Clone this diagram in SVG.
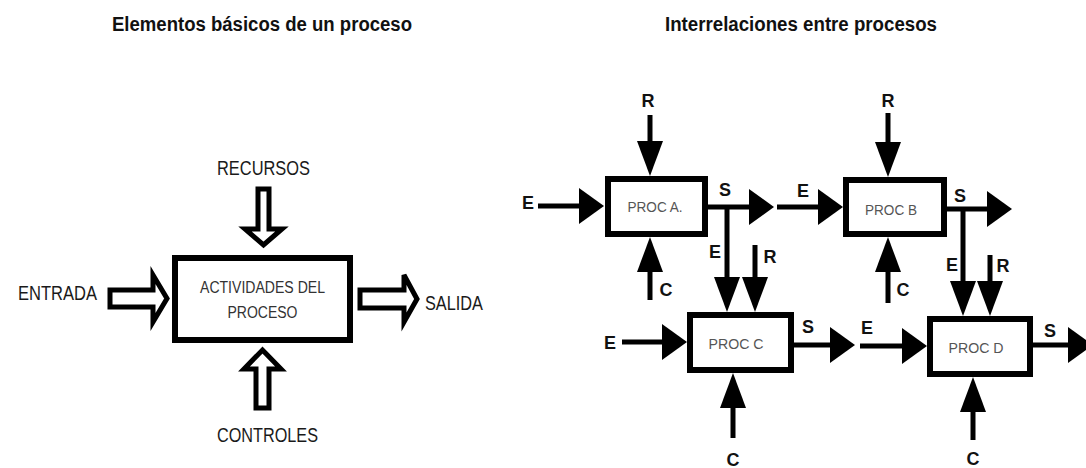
<svg xmlns="http://www.w3.org/2000/svg" width="1086" height="468" viewBox="0 0 1086 468">
<style>
.title{font-family:"Liberation Sans",Arial,sans-serif;font-weight:bold;font-size:20px;fill:#111}
.lbl{font-family:"Liberation Sans",Arial,sans-serif;font-size:20px;fill:#1a1a1a;text-anchor:middle}
.inner{font-family:"Liberation Sans",Arial,sans-serif;font-size:16px;fill:#333;text-anchor:middle}
.proc{font-family:"Liberation Sans",Arial,sans-serif;font-size:14px;fill:#555;text-anchor:middle}
.tag{font-family:"Liberation Sans",Arial,sans-serif;font-weight:bold;font-size:18px;fill:#111;text-anchor:middle}
.box{fill:#fff;stroke:#000;stroke-width:6}
.block{fill:#fff;stroke:#000;stroke-width:5;stroke-linejoin:miter}
.ln{fill:none;stroke:#000;stroke-width:5}
.h{marker-end:url(#arrowH)}
.v{marker-end:url(#arrowV)}
</style>
<defs>
<marker id="arrowH" markerUnits="userSpaceOnUse" markerWidth="25" markerHeight="36" viewBox="0 0 25 36" refX="0" refY="18" orient="auto" overflow="visible">
<path d="M0,0 L25,18 L0,36 Z" fill="#000"/>
</marker>
<marker id="arrowV" markerUnits="userSpaceOnUse" markerWidth="35" markerHeight="26" viewBox="0 0 35 26" refX="0" refY="13" orient="auto" overflow="visible">
<path d="M0,0 L35,13 L0,26 Z" fill="#000"/>
</marker>
</defs>
<rect width="1086" height="468" fill="#fff"/>

<g id="titles">
<text class="title" x="112" y="31" textLength="300" lengthAdjust="spacingAndGlyphs">Elementos básicos de un proceso</text>
<text class="title" x="665" y="31" textLength="272" lengthAdjust="spacingAndGlyphs">Interrelaciones entre procesos</text>
</g>

<!-- Left diagram -->
<g id="node-actividades">
<rect class="box" x="175" y="258" width="175" height="82"/>
<text class="inner" x="262.5" y="293" textLength="125" lengthAdjust="spacingAndGlyphs">ACTIVIDADES DEL</text>
<text class="inner" x="262.5" y="318" textLength="70" lengthAdjust="spacingAndGlyphs">PROCESO</text>
</g>
<g id="connectors-left">
<polygon class="block" points="258,189 269,189 269,229 282,229 263.5,245 245,229 258,229"/>
<polygon class="block" points="110,290 153,290 153,275 167,298.5 153,322 153,307 110,307"/>
<polygon class="block" points="360,290 404,290 404,275 417,299 404,322 404,308 360,308"/>
<polygon class="block" points="256,408 269,408 269,369 281,369 262.5,350 244,369 256,369"/>
</g>
<g id="labels-left">
<text class="lbl" x="263.5" y="175" textLength="93" lengthAdjust="spacingAndGlyphs">RECURSOS</text>
<text class="lbl" x="57.5" y="300" textLength="79" lengthAdjust="spacingAndGlyphs">ENTRADA</text>
<text class="lbl" x="454" y="310" textLength="58" lengthAdjust="spacingAndGlyphs">SALIDA</text>
<text class="lbl" x="267.5" y="442" textLength="101" lengthAdjust="spacingAndGlyphs">CONTROLES</text>
</g>

<!-- Right diagram -->
<g id="node-proc-a">
<rect class="box" x="608" y="179" width="97" height="55"/>
<text class="proc" x="655" y="212" textLength="55" lengthAdjust="spacingAndGlyphs">PROC A.</text>
</g>
<g id="node-proc-b">
<rect class="box" x="846" y="180" width="98" height="54"/>
<text class="proc" x="891" y="215" textLength="52" lengthAdjust="spacingAndGlyphs">PROC B</text>
</g>
<g id="node-proc-c">
<rect class="box" x="690" y="315" width="101" height="55"/>
<text class="proc" x="736" y="349" textLength="55" lengthAdjust="spacingAndGlyphs">PROC C</text>
</g>
<g id="node-proc-d">
<rect class="box" x="930" y="319" width="100" height="55"/>
<text class="proc" x="976" y="353" textLength="55" lengthAdjust="spacingAndGlyphs">PROC D</text>
</g>

<g id="connectors">
<!-- PROC A -->
<line class="ln v" x1="650" y1="115" x2="650" y2="141"/>
<line class="ln h" x1="538" y1="206" x2="579" y2="206"/>
<line class="ln v" x1="650" y1="300" x2="650" y2="272"/>
<line class="ln h" x1="705" y1="207" x2="749" y2="207"/>
<polyline class="ln v" points="727,205 727,277"/>
<line class="ln v" x1="755" y1="245" x2="755" y2="277"/>
<!-- PROC B -->
<line class="ln v" x1="888" y1="113" x2="888" y2="142"/>
<line class="ln h" x1="777" y1="207" x2="818" y2="207"/>
<line class="ln v" x1="888" y1="303" x2="888" y2="272"/>
<line class="ln h" x1="944" y1="209" x2="987" y2="209"/>
<polyline class="ln v" points="963,207 963,281"/>
<line class="ln v" x1="990" y1="255" x2="990" y2="281"/>
<!-- PROC C -->
<line class="ln h" x1="622" y1="342" x2="662" y2="342"/>
<line class="ln v" x1="733" y1="438" x2="733" y2="408"/>
<line class="ln h" x1="791" y1="345" x2="830" y2="345"/>
<!-- PROC D -->
<line class="ln h" x1="860" y1="346" x2="902" y2="346"/>
<line class="ln v" x1="973" y1="440" x2="973" y2="412"/>
<line class="ln h" x1="1030" y1="345" x2="1068" y2="345"/>
</g>

<g id="labels-right">
<text class="tag" x="648" y="107">R</text>
<text class="tag" x="528" y="209">E</text>
<text class="tag" x="666" y="296">C</text>
<text class="tag" x="725" y="196">S</text>
<text class="tag" x="715" y="258">E</text>
<text class="tag" x="770" y="263">R</text>
<text class="tag" x="888" y="107">R</text>
<text class="tag" x="803" y="197">E</text>
<text class="tag" x="903" y="296">C</text>
<text class="tag" x="960" y="202">S</text>
<text class="tag" x="952" y="271">E</text>
<text class="tag" x="1003" y="272">R</text>
<text class="tag" x="610" y="349">E</text>
<text class="tag" x="808" y="333">S</text>
<text class="tag" x="733" y="466">C</text>
<text class="tag" x="867" y="334">E</text>
<text class="tag" x="1050" y="337">S</text>
<text class="tag" x="973" y="465">C</text>
</g>
</svg>
